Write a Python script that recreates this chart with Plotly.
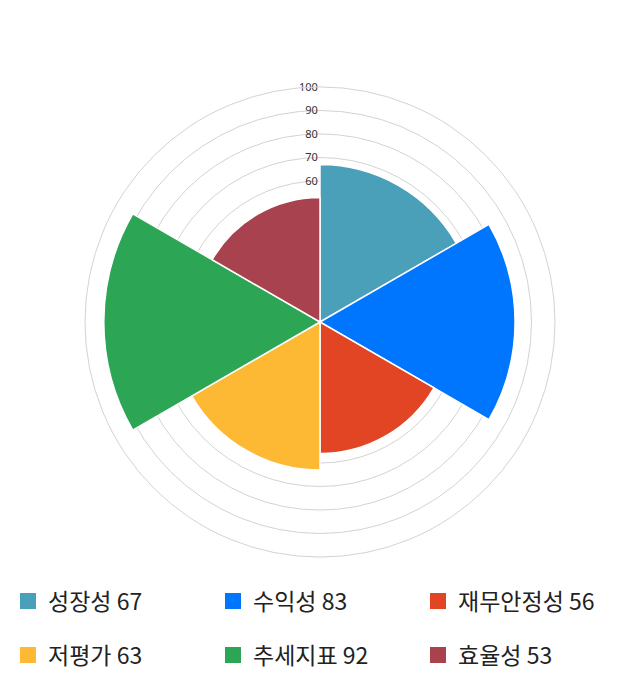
import plotly.graph_objects as go

# values
categories = ["성장성", "수익성", "재무안정성", "저평가", "추세지표", "효율성"]
scores = [67, 83, 56, 63, 92, 53]
colors = ["#4aa0b9", "#0076ff", "#e14523", "#fdb933", "#2ca555", "#a8424f"]

angles = [30 + 60 * i for i in range(len(categories))]

fig = go.Figure()

for i, (name, val, col) in enumerate(zip(categories, scores, colors)):
    fig.add_trace(go.Barpolar(
        r=[val], theta=[angles[i]], width=[60],
        marker=dict(color=col, line=dict(color="white", width=1.5)),
        name=f"{name} {val}", showlegend=False, hoverinfo="skip",
    ))
    # legend entries with square markers
    fig.add_trace(go.Scatterpolar(
        r=[None], theta=[None], mode="markers",
        marker=dict(symbol="square", size=16, color=col),
        name=f"{name} {val}",
        legend="legend" if i < 3 else "legend2",
    ))

legend_style = dict(
    orientation="h", entrywidth=160, entrywidthmode="pixels",
    font=dict(size=23, color="#222222", family="Noto Sans CJK KR"),
    bgcolor="rgba(0,0,0,0)", xanchor="left", yanchor="middle",
    itemclick=False, itemdoubleclick=False,
)

# page has an 8px body margin, so positions are given relative to the plot div
fig.update_layout(
    width=640, height=700,
    margin=dict(l=0, r=0, t=0, b=0, autoexpand=False),
    paper_bgcolor="white",
    showlegend=True,
    polar=dict(
        domain=dict(x=[77 / 640, 547 / 640], y=[151 / 700, 621 / 700]),
        bgcolor="white",
        radialaxis=dict(range=[0, 100], dtick=10, showticklabels=True,
                        angle=90, tickangle=90, side="counterclockwise",
                        layer="below traces",
                        tickfont=dict(size=11, color="#333333", family="Noto Sans"),
                        ticks="", showline=False, gridcolor="#d3d3d3", gridwidth=1),
        angularaxis=dict(rotation=90, direction="clockwise", showgrid=False,
                         showticklabels=False, ticks="", showline=True,
                         linecolor="#d3d3d3", linewidth=1),
    ),
    legend=dict(x=0, y=(700 - 593) / 700, **legend_style),
    legend2=dict(x=0, y=(700 - 647) / 700, **legend_style),
)

fig.write_html("out.html")
